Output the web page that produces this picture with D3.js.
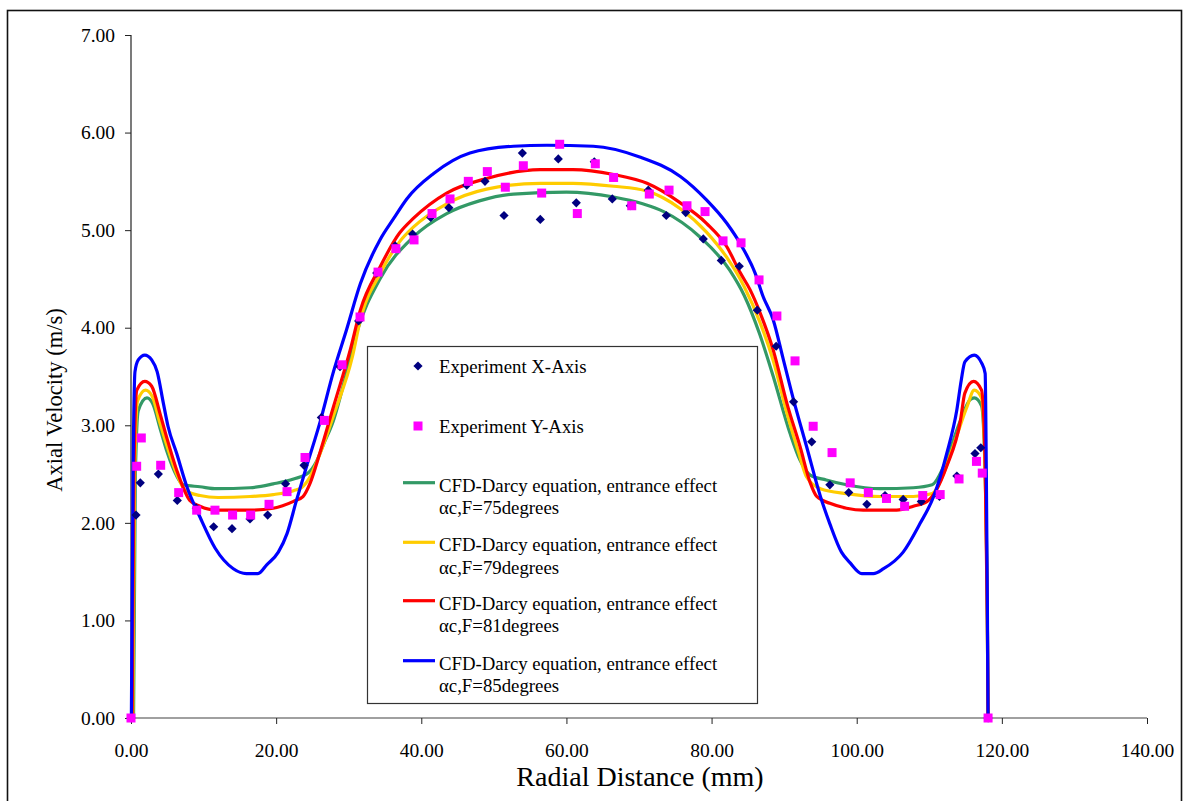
<!DOCTYPE html>
<html>
<head>
<meta charset="utf-8">
<script src="https://cdn.jsdelivr.net/npm/d3@7"></script>
<style>
  html, body { margin: 0; padding: 0; background: #fff; }
  svg { display: block; font-family: "Liberation Serif", "Times New Roman", serif; }
  svg text { font-family: "Liberation Serif", "Times New Roman", serif; }
</style>
</head>
<body>
<svg id="chart" width="1186" height="801"></svg>
<script>
// ---------------- DATA ----------------
const xTicks = [0, 20, 40, 60, 80, 100, 120, 140];
const yTicks = [0, 1, 2, 3, 4, 5, 6, 7];

// Experiment X-Axis (navy diamonds)
const expXr = [0,0.69,1.28,3.77,6.38,9.0,11.39,13.92,16.4,18.83,21.3,23.84,26.23,28.8,31.37,33.86,36.4,38.8,41.3,43.8,46.26,48.78,51.4,53.93,56.4,58.88,61.36,63.84,66.32,68.8,71.28,73.76,76.44,78.86,81.34,83.82,86.3,88.9,91.3,93.8,96.3,98.9,101.4,103.9,106.4,108.9,111.4,113.8,116.3,117.1,118.1];
const expXv = [0,2.08,2.41,2.50,2.23,2.15,1.96,1.94,2.04,2.08,2.40,2.59,3.08,3.60,4.07,4.56,4.84,4.96,5.13,5.23,5.46,5.50,5.15,5.79,5.11,5.73,5.28,5.70,5.32,5.25,5.41,5.15,5.18,4.91,4.69,4.63,4.18,3.81,3.24,2.83,2.39,2.31,2.19,2.28,2.24,2.22,2.27,2.48,2.71,2.77,0];

// Experiment Y-Axis (magenta squares)
const expYr = [0,0.78,1.42,4.09,6.57,9.05,11.57,14.0,16.49,19.02,21.5,23.98,26.64,29.08,31.56,34.04,36.5,39.0,41.48,43.96,46.48,49.1,51.58,54.06,56.59,59.07,61.5,63.98,66.5,69.0,71.42,74.14,76.61,79.1,81.58,84.06,86.54,89.0,91.5,94.0,96.6,99.1,101.6,104.1,106.6,109.1,111.5,114.1,116.5,117.3,118.1];
const expYv = [0,2.58,2.87,2.59,2.31,2.13,2.13,2.08,2.08,2.19,2.32,2.67,3.05,3.62,4.11,4.57,4.81,4.90,5.17,5.32,5.50,5.60,5.44,5.66,5.38,5.88,5.17,5.68,5.54,5.25,5.37,5.41,5.25,5.19,4.89,4.87,4.49,4.12,3.66,2.99,2.72,2.41,2.31,2.25,2.17,2.28,2.29,2.45,2.63,2.51,0];

// CFD curves [radial distance (mm), axial velocity (m/s)]
const cfd75 = [[0.35,0],[0.6,2.5],[1.0,3.15],[2.2,3.28],[3.0,3.22],[4.0,2.97],[5.0,2.72],[6.3,2.48],[7.2,2.39],[9.5,2.37],[11.8,2.35],[16.4,2.36],[19.6,2.40],[22.4,2.45],[24.4,2.51],[25.5,2.62],[26.5,2.80],[27.9,3.05],[29.5,3.48],[31.1,3.95],[34.3,4.50],[38.9,4.93],[43.5,5.17],[48.0,5.30],[52.7,5.37],[60.0,5.39],[66.5,5.34],[70.5,5.27],[73.4,5.19],[78.4,4.93],[82.5,4.59],[84.5,4.33],[86.6,3.94],[88.5,3.50],[90.8,2.92],[92.2,2.64],[93.6,2.49],[95.8,2.44],[98.6,2.39],[103.2,2.35],[107.8,2.36],[110.4,2.39],[112.0,2.58],[114.3,3.05],[115.6,3.26],[116.2,3.28],[117.2,3.20],[117.7,2.5],[118.0,1.0],[118.1,0]];
const cfd79 = [[0.25,0],[0.5,2.5],[0.9,3.25],[2.0,3.36],[2.9,3.30],[4.0,3.02],[5.0,2.78],[6.3,2.50],[7.5,2.33],[9.5,2.28],[12.0,2.26],[16.4,2.27],[19.6,2.29],[22.4,2.33],[23.5,2.36],[24.5,2.45],[26.0,2.70],[28.0,3.12],[30.5,3.70],[31.6,4.08],[34.3,4.55],[37.0,4.88],[38.9,5.03],[43.5,5.27],[49.0,5.42],[56.4,5.48],[60.9,5.48],[66.5,5.45],[71.1,5.40],[75.7,5.22],[79.3,4.98],[82.1,4.72],[84.5,4.42],[86.7,4.05],[88.5,3.66],[90.4,3.12],[92.0,2.72],[93.1,2.47],[95.0,2.35],[98.6,2.30],[103.2,2.27],[107.8,2.27],[110.4,2.30],[112.0,2.51],[113.6,2.85],[115.2,3.19],[116.2,3.36],[117.2,3.28],[117.7,2.5],[118.0,1.0],[118.1,0]];
const cfd81 = [[0.15,0],[0.4,2.5],[0.8,3.36],[1.9,3.45],[2.85,3.40],[4.0,3.12],[4.9,2.88],[6.3,2.54],[8.1,2.23],[9.5,2.17],[11.8,2.13],[16.4,2.13],[19.6,2.15],[22.4,2.22],[23.7,2.27],[24.7,2.41],[26.0,2.71],[27.9,3.19],[30.2,3.77],[31.6,4.18],[34.3,4.62],[37.0,4.97],[38.9,5.12],[43.5,5.38],[49.0,5.53],[56.4,5.62],[60.9,5.62],[66.5,5.57],[71.1,5.48],[75.7,5.28],[79.3,5.07],[82.1,4.83],[83.9,4.57],[85.3,4.39],[86.7,4.15],[88.5,3.77],[90.4,3.22],[92.2,2.78],[93.6,2.41],[94.5,2.27],[96.3,2.20],[98.6,2.15],[100.9,2.13],[105.5,2.13],[107.8,2.17],[109.7,2.22],[111.0,2.34],[112.4,2.58],[114.3,3.05],[114.9,3.33],[116.1,3.45],[117.2,3.36],[117.7,2.6],[118.0,1.0],[118.1,0]];
const cfd85 = [[0.05,0],[0.3,2.6],[0.55,3.55],[1.0,3.67],[1.9,3.72],[2.85,3.67],[3.6,3.55],[4.45,3.23],[5.1,2.99],[6.3,2.71],[7.7,2.37],[9.5,2.06],[11.6,1.74],[14.1,1.53],[15.9,1.48],[17.5,1.48],[18.7,1.57],[20.3,1.70],[21.5,1.89],[22.8,2.23],[24.2,2.58],[26.0,3.02],[27.9,3.55],[29.7,3.98],[31.6,4.45],[34.3,4.90],[36.2,5.12],[38.0,5.32],[41.7,5.58],[46.7,5.79],[52.7,5.86],[57.3,5.87],[63.7,5.86],[70.1,5.75],[75.7,5.55],[79.3,5.31],[82.1,5.07],[84.2,4.83],[86.0,4.56],[87.1,4.32],[88.5,4.08],[89.9,3.67],[91.3,3.26],[93.1,2.78],[95.0,2.27],[96.3,1.99],[97.9,1.70],[99.1,1.59],[100.7,1.48],[102.3,1.48],[103.7,1.53],[106.4,1.70],[108.7,1.99],[110.6,2.27],[112.4,2.71],[113.8,3.16],[114.4,3.46],[114.9,3.65],[116.2,3.72],[117.2,3.64],[117.7,3.53],[117.85,2.6],[118.0,1.2],[118.1,0]];

const lineSeries = [
  {name: "CFD-Darcy equation, entrance effect", sub: "αc,F=75degrees", data: cfd75, color: "#339966"},
  {name: "CFD-Darcy equation, entrance effect", sub: "αc,F=79degrees", data: cfd79, color: "#FFCC00"},
  {name: "CFD-Darcy equation, entrance effect", sub: "αc,F=81degrees", data: cfd81, color: "#FF0000"},
  {name: "CFD-Darcy equation, entrance effect", sub: "αc,F=85degrees", data: cfd85, color: "#0000FF"}
];

// ---------------- CHART ----------------
const svg = d3.select("#chart");

// outer frame
svg.append("rect").attr("x", 7.5).attr("y", 10.5).attr("width", 1174).attr("height", 820)
  .attr("fill", "#fff").attr("stroke", "#111").attr("stroke-width", 1.6);

const x = d3.scaleLinear().domain([0, 140]).range([131, 1147]);
const y = d3.scaleLinear().domain([0, 7]).range([718, 35]);

// axes
const xAxis = svg.append("g").attr("transform", "translate(0,718)")
  .call(d3.axisBottom(x).tickValues(xTicks).tickFormat(d3.format(".2f")).tickSize(6).tickPadding(19));
xAxis.attr("font-family", null);
xAxis.select(".domain").attr("stroke", "#808080").attr("stroke-width", 1.3).attr("d", "M131,0H1147");
xAxis.selectAll(".tick line").attr("stroke", "#222");
xAxis.selectAll("text").attr("font-size", 19.5).attr("fill", "#000");

const yAxis = svg.append("g").attr("transform", "translate(131,0)")
  .call(d3.axisLeft(y).tickValues(yTicks).tickFormat(d3.format(".2f")).tickSize(6).tickPadding(10));
yAxis.attr("font-family", null);
yAxis.select(".domain").attr("stroke", "#222").attr("stroke-width", 1.2).attr("d", "M0,35V718");
yAxis.selectAll(".tick line").attr("stroke", "#222");
yAxis.selectAll("text").attr("font-size", 19.5).attr("fill", "#000");

// axis titles
svg.append("text").attr("x", 640).attr("y", 786).attr("text-anchor", "middle")
  .attr("font-size", 28).attr("fill", "#000").text("Radial Distance (mm)");
svg.append("text").attr("transform", "translate(62,400) rotate(-90)").attr("text-anchor", "middle")
  .attr("font-size", 22.5).attr("fill", "#000").text("Axial Velocity (m/s)");

// lines
const line = d3.line().x(d => x(d[0])).y(d => y(d[1])).curve(d3.curveMonotoneX);
svg.append("g").selectAll("path").data(lineSeries).join("path")
  .attr("d", d => line(d.data))
  .attr("fill", "none").attr("stroke", d => d.color).attr("stroke-width", 3.2)
  .attr("stroke-linejoin", "round");

// markers
const diamond = (cx, cy, r) => `M${cx},${cy - r}L${cx + r},${cy}L${cx},${cy + r}L${cx - r},${cy}Z`;
svg.append("g").selectAll("path").data(d3.range(expXr.length)).join("path")
  .attr("d", i => diamond(x(expXr[i]), y(expXv[i]), 4.6))
  .attr("fill", "#000080");
svg.append("g").selectAll("rect").data(d3.range(expYr.length)).join("rect")
  .attr("x", i => x(expYr[i]) - 4.5).attr("y", i => y(expYv[i]) - 4.5)
  .attr("width", 9).attr("height", 9).attr("fill", "#FF00FF");

// legend
const lg = svg.append("g");
lg.append("rect").attr("x", 367.5).attr("y", 346.5).attr("width", 390).attr("height", 357)
  .attr("fill", "#fff").attr("stroke", "#333").attr("stroke-width", 1.2);
const lfs = 18.8;
lg.append("path").attr("d", diamond(418, 366, 4.6)).attr("fill", "#000080");
lg.append("text").attr("x", 439).attr("y", 373).attr("font-size", lfs).text("Experiment X-Axis");
lg.append("rect").attr("x", 413.5).attr("y", 421.5).attr("width", 9).attr("height", 9).attr("fill", "#FF00FF");
lg.append("text").attr("x", 439).attr("y", 433).attr("font-size", lfs).text("Experiment Y-Axis");
lineSeries.forEach((s, i) => {
  const ly = [482.7, 542.3, 600.7, 660.7][i];
  lg.append("line").attr("x1", 403).attr("x2", 435).attr("y1", ly).attr("y2", ly)
    .attr("stroke", s.color).attr("stroke-width", 3.2);
  lg.append("text").attr("x", 439).attr("y", ly + 9).attr("font-size", lfs).text(s.name);
  lg.append("text").attr("x", 439).attr("y", ly + 31.5).attr("font-size", lfs).text(s.sub);
});
</script>
</body>
</html>
